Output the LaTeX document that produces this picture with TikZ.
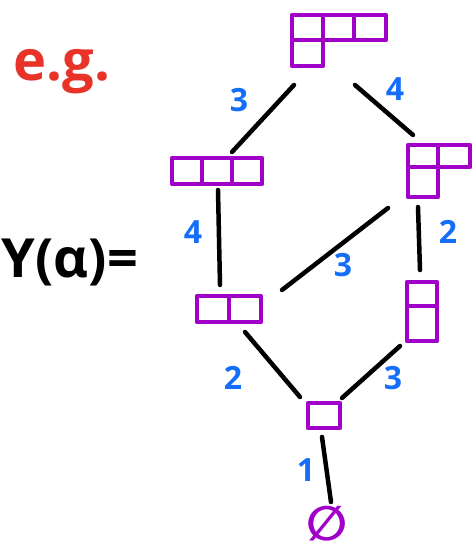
\documentclass[tikz,border=0pt]{standalone}
\usepackage{fontspec}
\setmainfont{Open Sans}
\newfontfamily\symfont{DejaVu Sans}
\definecolor{ypurple}{RGB}{160,0,200}
\definecolor{lblue}{RGB}{20,110,250}
\definecolor{egred}{RGB}{232,52,40}
\begin{document}
\begin{tikzpicture}[x=1pt,y=-1pt,
  ybox/.style={draw=ypurple,line width=4.5pt,line join=round},
  edge/.style={line width=4.5pt,line cap=round},
  lbl/.style={text=lblue,font=\fontsize{32}{32}\selectfont\bfseries,inner sep=0pt},
]
\useasboundingbox (0,0) rectangle (474,552);
% Young diagrams
% top [3,1]
\draw[ybox] (292,15) rectangle (323,40) (323,15) rectangle (354,40) (354,15) rectangle (386,40) (292,40) rectangle (323,66);
% left [3]
\draw[ybox] (172,158) rectangle (202,184) (202,158) rectangle (232,184) (232,158) rectangle (262,184);
% right [2,1]
\draw[ybox] (408,145) rectangle (438,167) (438,145) rectangle (470,167) (408,167) rectangle (438,197);
% [2]
\draw[ybox] (197,296) rectangle (229,322) (229,296) rectangle (261,322);
% [1,1]
\draw[ybox] (407,282) rectangle (437,306) (407,306) rectangle (437,341);
% [1]
\draw[ybox] (308,403) rectangle (340,428);
% empty set
\node[text=ypurple,font=\symfont\fontsize{48}{48}\selectfont\bfseries,inner sep=0pt] (empty) at (327,524) {∅};

% edge endpoints
\coordinate (a1) at (294,85);  \coordinate (a2) at (232,152);
\coordinate (b1) at (355,85);  \coordinate (b2) at (413,135);
\coordinate (c1) at (218,190); \coordinate (c2) at (220,285);
\coordinate (d1) at (388,208); \coordinate (d2) at (282,290);
\coordinate (e1) at (418,207); \coordinate (e2) at (420,270);
\coordinate (f1) at (245,332); \coordinate (f2) at (300,397);
\coordinate (g1) at (400,346); \coordinate (g2) at (342,398);
\coordinate (h1) at (322,437); \coordinate (h2) at (331,502);
\draw[edge] (a1) -- (a2);
\draw[edge] (b1) -- (b2);
\draw[edge] (c1) -- (c2);
\draw[edge] (d1) -- (d2);
\draw[edge] (e1) -- (e2);
\draw[edge] (f1) -- (f2);
\draw[edge] (g1) -- (g2);
\draw[edge] (h1) -- (h2);

% labels
\node[lbl] (la) at (239,100) {3};
\node[lbl] (lb) at (395,89) {4};
\node[lbl] (lc) at (193,232) {4};
\node[lbl] (ld) at (343,265) {3};
\node[lbl] (le) at (448,232) {2};
\node[lbl] (lf) at (233,378) {2};
\node[lbl] (lg) at (393,378) {3};
\node[lbl] (lh) at (306,470) {1};

% text
\node[text=egred,font=\fontsize{56}{56}\selectfont\bfseries,inner sep=0pt] (eg) at (62,72) {e.g.};
\node[font=\fontsize{54}{54}\selectfont\bfseries,inner sep=0pt] (ya) at (70,262) {Y(α)=};
\end{tikzpicture}
\end{document}
